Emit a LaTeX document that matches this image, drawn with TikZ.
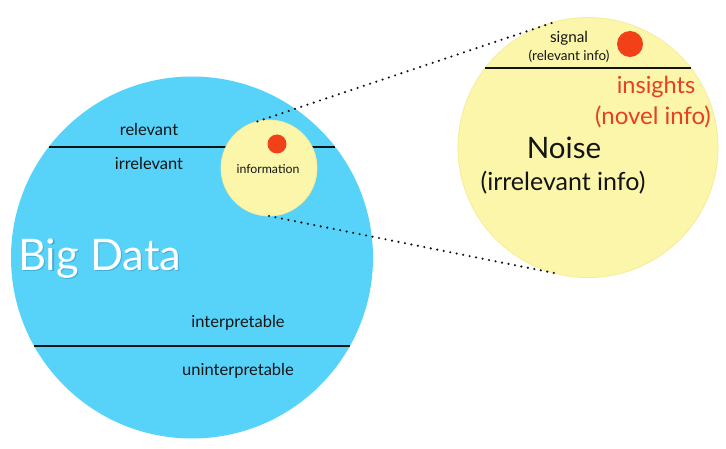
\documentclass[tikz,border=0pt]{standalone}
\usepackage{fontspec}
\setmainfont{Lato}
\definecolor{bdblue}{RGB}{87,211,250}
\definecolor{infoyel}{RGB}{251,246,170}
\definecolor{yelrim}{RGB}{246,236,150}
\definecolor{dotred}{RGB}{242,64,24}
\definecolor{txtred}{RGB}{232,62,34}
\definecolor{ink}{RGB}{20,20,20}
\definecolor{shade}{RGB}{50,150,190}
\begin{document}
\begin{tikzpicture}[x=1pt,y=-1pt,
  disc/.style={circle,inner sep=0pt,outer sep=0pt,minimum size=#1},
  lbl/.style={inner sep=0pt,text=ink,font=\fontsize{#1}{#1}\selectfont},
  chord/.style={line width=2.3pt,draw=ink},
  zoomline/.style={line width=2.4pt,line cap=round,dash pattern=on 0pt off 6.6pt,draw=ink}]
\useasboundingbox (0,0) rectangle (726,449);
% big data circle
\node[disc=362,fill=bdblue] (big) at (192,257.5) {};
\coordinate (r1) at (48.6,147);
\coordinate (r2) at (335.4,147);
\coordinate (u1) at (34.1,346);
\coordinate (u2) at (349.9,346);
\draw[chord] (r1) -- (r2);
\draw[chord] (u1) -- (u2);
% small information circle
\node[disc=96,fill=infoyel,draw=yelrim,line width=0.8pt] (info) at (269,168) {};
\node[disc=19,fill=dotred] (idot) at (277,144) {};
\node[lbl=12.3] (infotxt) at (268,169) {information};
% labels
\node[lbl=16.5] (rel) at (149,129) {relevant};
\node[lbl=16.5] (irr) at (149,163) {irrelevant};
\node[lbl=16.5] (int) at (238,323) {interpretable};
\node[lbl=16.5] (unint) at (238,371) {uninterpretable};
\node[lbl=43.5,text=shade,opacity=0.6,anchor=base west] (bdshadow) at (19.3,272) {Big Data};
\node[lbl=43.5,text=white,anchor=base west] (bd) at (18,271) {Big Data};
% zoom circle
\node[disc=260,fill=infoyel,draw=yelrim,line width=0.8pt] (zoom) at (588,147.5) {};
\draw[zoomline] (info.104) -- (zoom.104);
\draw[zoomline] (info.270) -- (zoom.255);
\coordinate (s1) at (485.1,68);
\coordinate (s2) at (690.9,68);
\draw[line width=2pt,draw=ink] (s1) -- (s2);
\node[disc=26,fill=dotred] (zdot) at (630,44) {};
\node[lbl=15.3] (sig) at (569,38) {signal};
\node[lbl=13.5] (sigsub) at (569,56) {(relevant info)};
\node[lbl=23.5,text=txtred] (ins) at (656,87) {insights};
\node[lbl=24,text=txtred] (nov) at (653,117) {(novel info)};
\node[lbl=29.5] (noise) at (564,148) {Noise};
\node[lbl=25] (irrinfo) at (563,183) {(irrelevant info)};
\end{tikzpicture}
\end{document}
